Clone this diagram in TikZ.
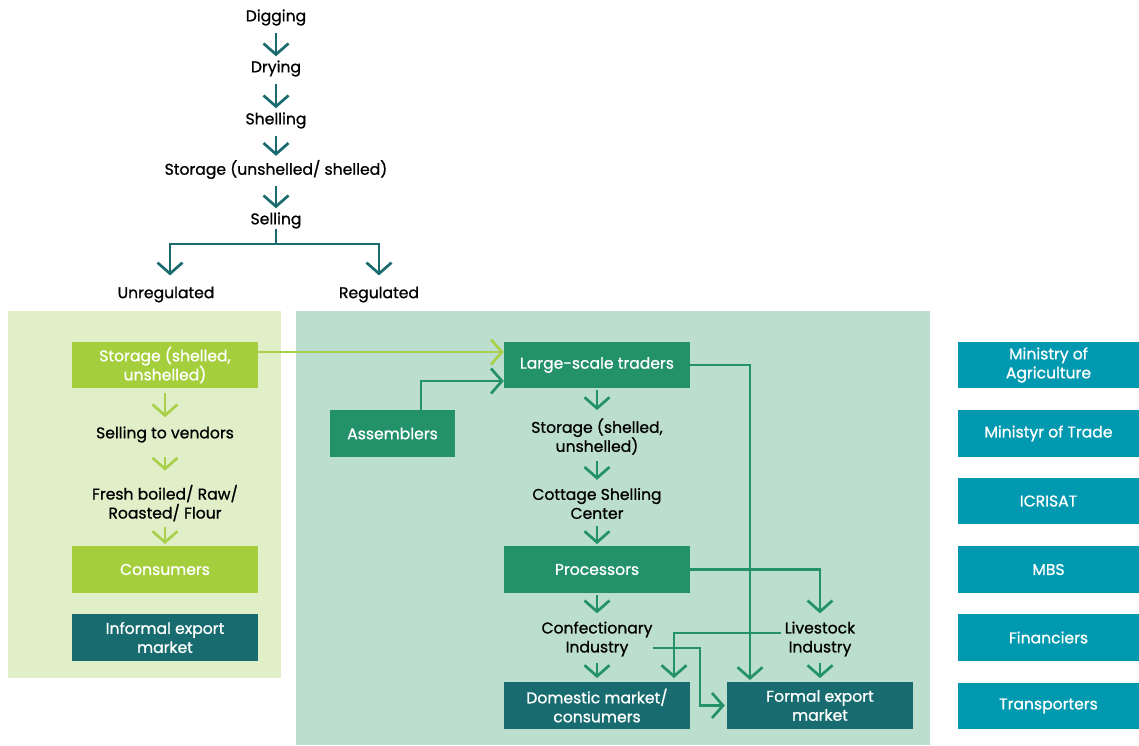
\documentclass[tikz,border=0pt]{standalone}
\usepackage{fontspec}
\setmainfont{Poppins}[FakeBold=0.9]
\usetikzlibrary{arrows.meta}

\definecolor{chainTeal}{HTML}{1A6B6E}
\definecolor{limeBox}{HTML}{A4CE3C}
\definecolor{limeLine}{HTML}{A8D04A}
\definecolor{limeBg}{HTML}{E1EFC9}
\definecolor{greenBox}{HTML}{23916A}
\definecolor{greenBg}{HTML}{BCDECF}
\definecolor{darkTeal}{HTML}{186C6F}
\definecolor{agencyBlue}{HTML}{0099B0}

\tikzset{
  txt/.style={inner sep=0pt, align=center, text=black, yshift=-1.5pt,
    font=\fontsize{15.6}{19}\selectfont},
  box/.style={inner sep=0pt, minimum width=186pt, minimum height=46.5pt,
    align=center, text=white, font=\fontsize{15.6}{19}\selectfont},
  limebox/.style={box, fill=limeBox},
  greenbox/.style={box, fill=greenBox},
  tealbox/.style={box, fill=darkTeal},
  agency/.style={box, fill=agencyBlue, minimum width=181pt},
  barb/.style={-{Straight Barb[length=11pt,width=25pt,line width=2.7pt]}},
  tflow/.style={draw=chainTeal, line width=2.7pt, barb},
  tline/.style={draw=chainTeal, line width=2.7pt},
  lflow/.style={draw=limeLine, line width=2.7pt, barb},
  gflow/.style={draw=greenBox, line width=2.7pt, barb},
}

\begin{document}
\begin{tikzpicture}[x=1pt,y=-1pt]
\useasboundingbox (0,0) rectangle (1139,745);

% panels
\fill[limeBg] (8,311) rectangle (281,678);
\fill[greenBg] (296,311) rectangle (930,745);

% farm-level chain
\node[txt] (dig)  at (276,16)  {Digging};
\node[txt] (dry)  at (276,67)  {Drying};
\node[txt] (shel) at (276,119) {Shelling};
\node[txt] (stor) at (276,168) {Storage (unshelled/ shelled)};
\node[txt] (sell) at (276,219) {Selling};
\node[txt] (unreg) at (166,293) {Unregulated};
\node[txt] (reg)   at (379,293) {Regulated};
\coordinate (fork) at (276,244);

\foreach \a/\b in {dig/dry, dry/shel, shel/stor, stor/sell}
  \draw[tflow, shorten <=7pt, shorten >=4pt] (\a) -- (\b);
\draw[tline] (sell) -- (fork);
\draw[tflow, shorten >=11pt] (fork) -| ([xshift=4pt]unreg.north);
\draw[tflow, shorten >=11pt] (fork) -| (reg);

% unregulated channel
\node[limebox] (storL) at (165,365) {Storage (shelled,\\unshelled)};
\node[txt] (vend) at (165,433) {Selling to vendors};
\node[txt] (fresh) at (165,501.5) {Fresh boiled/ Raw/\\Roasted/ Flour};
\node[limebox] (cons) at (165,569.5) {Consumers};
\node[tealbox] (infx) at (165,637.5) {Informal export\\market};

\draw[lflow, shorten <=5pt, shorten >=9pt] (storL) -- (vend);
\draw[lflow, shorten <=14pt, shorten >=14pt] (vend) -- (fresh);
\draw[lflow, shorten <=6pt, shorten >=2pt] (fresh) -- (cons);

% regulated channel
\node[greenbox] (lst) at (597,365) {Large-scale traders};
\node[greenbox, minimum width=125pt] (asm) at (392.5,433.5) {Assemblers};
\node[txt] (storR) at (597,435) {Storage (shelled,\\unshelled)};
\node[txt] (csc) at (597,502) {Cottage Shelling\\Center};
\node[greenbox] (proc) at (597,569.5) {Processors};
\node[txt] (conf) at (597,637.5) {Confectionary\\Industry};
\node[txt] (live) at (820,637.5) {Livestock\\Industry};
\node[tealbox] (dom) at (597,705.5) {Domestic market/\\consumers};
\node[tealbox] (fexp) at (820,705.5) {Formal export\\market};
\coordinate (cjog) at (700,648);

\draw[lflow] ([yshift=13pt]storL.east) -- ([yshift=13pt]lst.west);
\draw[gflow] ([xshift=28.5pt]asm.north) |- ([yshift=-16pt]lst.west);

\draw[gflow, shorten <=2pt, shorten >=8pt] (lst) -- (storR);
\draw[gflow, shorten <=6pt, shorten >=8pt] (storR) -- (csc);
\draw[gflow, shorten <=7pt, shorten >=2pt] (csc) -- (proc);
\draw[gflow, shorten <=2pt, shorten >=8pt] (proc) -- (conf);
\draw[gflow, shorten <=6pt, shorten >=4pt] (conf) -- (dom);
\draw[gflow, shorten <=6pt, shorten >=4pt] (live) -- (fexp);

\draw[gflow, shorten >=2pt] (lst.east) -| ([xshift=-70pt]fexp.north);
\draw[gflow, shorten >=8pt] (proc.east) -| (live);
\draw[gflow, shorten <=4pt, shorten >=4pt] ([yshift=6pt]live.west) -| ([xshift=77pt]dom.north);
\draw[gflow, shorten >=2pt] (conf.east |- cjog) -- (cjog) |- (fexp.west);

% supporting institutions
\node[agency] (moa) at (1048.5,365)   {Ministry of\\Agriculture};
\node[agency] (mot) at (1048.5,433.5) {Ministyr of Trade};
\node[agency] (icr) at (1048.5,501)   {ICRISAT};
\node[agency] (mbs) at (1048.5,569.5) {MBS};
\node[agency] (fin) at (1048.5,637.5) {Financiers};
\node[agency] (trn) at (1048.5,706)   {Transporters};
\end{tikzpicture}
\end{document}
